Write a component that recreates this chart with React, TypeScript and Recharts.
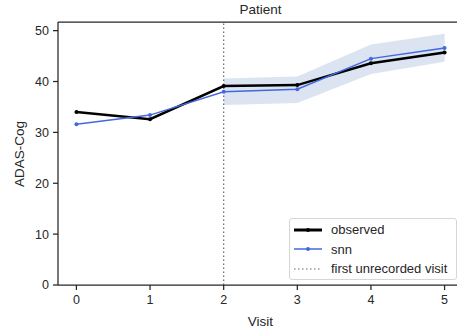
import React from 'react';
import { ComposedChart, Line, Area, XAxis, YAxis, ReferenceLine } from 'recharts';

const visits = [0, 1, 2, 3, 4, 5];
const observed = [34.0, 32.6, 39.1, 39.3, 43.6, 45.7];
const snn = [31.6, 33.4, 38.0, 38.5, 44.5, 46.6];
const bandLow = [null, null, 35.4, 35.8, 41.5, 43.9];
const bandHigh = [null, null, 40.6, 41.0, 47.3, 49.4];
const yTicks = [0, 10, 20, 30, 40, 50];
const Y_MAX = 51.7;
const FIRST_UNRECORDED = 2;

const data = visits.map((v, i) => ({
  visit: v,
  observed: observed[i],
  snn: snn[i],
  band: bandLow[i] != null ? [bandLow[i], bandHigh[i]] : null,
}));

const FONT = '"Liberation Sans", Arial, sans-serif';
const AX = '#262626';
const TXT = '#262626';

const legendItems = [
  { label: 'observed', color: '#000', w: 3, dash: undefined as string | undefined, dot: true },
  { label: 'snn', color: '#4169e1', w: 1.5, dash: undefined as string | undefined, dot: true },
  { label: 'first unrecorded visit', color: '#666', w: 1.2, dash: '1.5 2.5', dot: false },
];

const LegendBox = () => (
  <div style={{ position: 'absolute', left: 289, top: 218, width: 168, height: 62, border: '1px solid #d6d6d6', borderRadius: 3, background: 'rgba(255,255,255,0.85)', padding: '0 0 0 3px', fontFamily: FONT, fontSize: 13, color: TXT, boxSizing: 'border-box' }}>
    {legendItems.map((e, i) => (
      <div key={e.label} style={{ display: 'flex', alignItems: 'center', height: 19.5, marginTop: i === 0 ? 1 : 0 }}>
        <svg width={30} height={10} style={{ marginRight: 8 }}>
          <line x1={1} y1={5} x2={29} y2={5} stroke={e.color} strokeWidth={e.w} strokeDasharray={e.dash} />
          {e.dot && <circle cx={15} cy={5} r={2} fill={e.color} />}
        </svg>
        <span>{e.label}</span>
      </div>
    ))}
  </div>
);

export default function App() {
  return (
    <div style={{ position: 'absolute', left: 0, top: 0, width: 457, height: 333, overflow: 'hidden', background: '#fff' }}>
      <div style={{ position: 'absolute', left: 0, top: 2, width: 521, textAlign: 'center', fontFamily: FONT, fontSize: 13.5, color: TXT }}>Patient</div>
      <div style={{ position: 'absolute', left: 19, top: 154, transform: 'translate(-50%, -50%) rotate(-90deg)', whiteSpace: 'nowrap', fontFamily: FONT, fontSize: 13.5, color: TXT }}>ADAS-Cog</div>
      <div style={{ position: 'absolute', left: 0, top: 0 }}>
        <ComposedChart width={470} height={333} data={data} margin={{ top: 22, right: 7, bottom: 0, left: 0 }}>
          <XAxis
            dataKey="visit"
            type="number"
            domain={[-0.25, 5.25]}
            ticks={visits}
            allowDataOverflow
            height={48}
            tickSize={5}
            tickMargin={5}
            stroke={AX}
            axisLine={{ stroke: AX, strokeWidth: 1.25 }}
            tickLine={{ stroke: AX, strokeWidth: 1.25 }}
            tick={{ fill: TXT, fontSize: 12.5, fontFamily: FONT }}
            label={{ value: 'Visit', position: 'insideBottom', offset: 7, fill: TXT, fontSize: 13.5, fontFamily: FONT }}
          />
          <YAxis
            type="number"
            domain={[0, Y_MAX]}
            ticks={yTicks}
            allowDataOverflow
            width={58}
            tickSize={5}
            tickMargin={4}
            stroke={AX}
            axisLine={{ stroke: AX, strokeWidth: 1.25 }}
            tickLine={{ stroke: AX, strokeWidth: 1.25 }}
            tick={{ fill: TXT, fontSize: 12.5, fontFamily: FONT }}
          />
          <ReferenceLine y={Y_MAX} stroke={AX} strokeWidth={1.25} />
          <Area dataKey="band" stroke="none" fill="#b0c4de" fillOpacity={0.45} isAnimationActive={false} connectNulls={false} />
          <ReferenceLine x={FIRST_UNRECORDED} stroke="#666" strokeWidth={1.2} strokeDasharray="1.5 2.5" />
          <Line dataKey="observed" stroke="#000" strokeWidth={2.5} dot={{ r: 2, fill: '#000', stroke: '#000', strokeWidth: 0 }} isAnimationActive={false} />
          <Line dataKey="snn" stroke="#4169e1" strokeWidth={1.5} dot={{ r: 2, fill: '#4169e1', stroke: '#4169e1', strokeWidth: 0 }} isAnimationActive={false} />
        </ComposedChart>
      </div>
      <LegendBox />
    </div>
  );
}
